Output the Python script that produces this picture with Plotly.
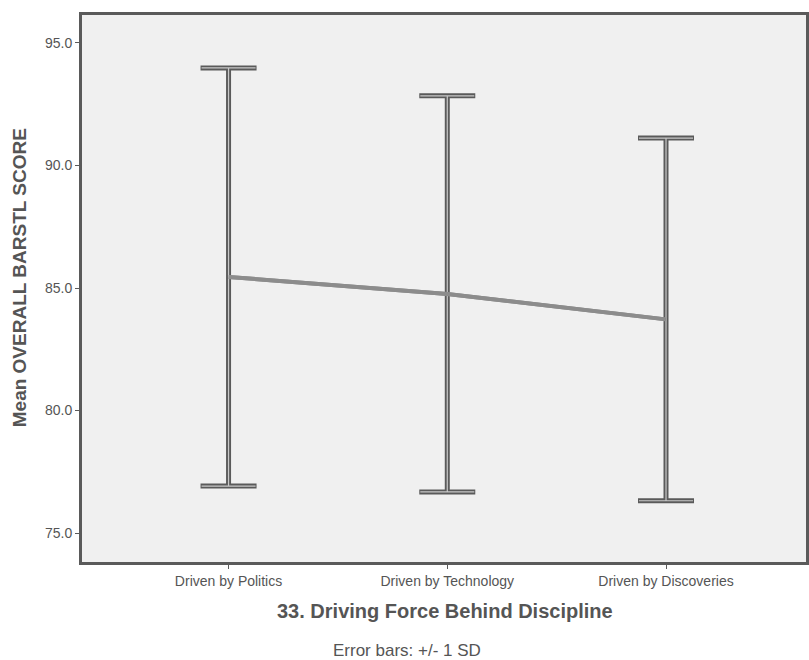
import plotly.graph_objects as go

categories = ["Driven by Politics", "Driven by Technology", "Driven by Discoveries"]
means = [85.45, 84.76, 83.72]
sds = [8.53, 8.08, 7.40]
y_ticks = [75.0, 80.0, 85.0, 90.0, 95.0]

x_pos = list(range(len(categories)))

fig = go.Figure()
# outer (dark) error bars
fig.add_trace(go.Scatter(
    x=x_pos, y=means, mode="lines",
    line=dict(color="#8c8c8c", width=4),
    error_y=dict(type="data", array=sds, visible=True, color="#5a5a5a",
                 thickness=5, width=28),
    showlegend=False, hoverinfo="skip",
))
# inner light core to mimic the tube-like error bars
fig.add_trace(go.Scatter(
    x=x_pos, y=means, mode="markers",
    marker=dict(size=1, opacity=0),
    error_y=dict(type="data", array=sds, visible=True, color="#c8c8c8",
                 thickness=1.2, width=27),
    showlegend=False, hoverinfo="skip",
))
# mean line drawn on top
fig.add_trace(go.Scatter(
    x=x_pos, y=means, mode="lines",
    line=dict(color="#8c8c8c", width=4),
    showlegend=False, hoverinfo="skip",
))

font = "Liberation Sans, Arial, sans-serif"
W, H = 809, 660
L, R, T, B = 82, 0, 15, 98
pw, ph = W - L - R, H - T - B

fig.update_layout(
    width=W, height=H,
    margin=dict(l=L, r=R, t=T, b=B),
    paper_bgcolor="white", plot_bgcolor="#F0F0F0",
    font=dict(family=font, color="#444444"),
    xaxis=dict(
        range=[-0.67, 2.64], tickvals=x_pos, ticktext=categories,
        showgrid=False, zeroline=False, showline=True, linecolor="#5a5a5a",
        linewidth=3, mirror=True, ticks="outside", ticklen=4, tickcolor="#5a5a5a",
        tickfont=dict(size=14, color="#555555"),
    ),
    yaxis=dict(
        range=[73.82, 96.14], tickvals=y_ticks,
        ticktext=[f"{v:.1f}" for v in y_ticks],
        showgrid=False, zeroline=False, showline=True, linecolor="#5a5a5a",
        linewidth=3, mirror=True, ticks="outside", ticklen=4, tickcolor="#5a5a5a",
        tickfont=dict(size=14, color="#555555"),
    ),
    annotations=[
        dict(text="<b>33. Driving Force Behind Discipline</b>", xref="paper", yref="paper",
             x=(447 - L) / pw, y=-(611 - (T + ph)) / ph, xanchor="center", yanchor="middle",
             showarrow=False, font=dict(size=20, color="#555555", family=font)),
        dict(text="Error bars: +/- 1 SD", xref="paper", yref="paper",
             x=(408 - L) / pw, y=-(650 - (T + ph)) / ph, xanchor="center", yanchor="middle",
             showarrow=False, font=dict(size=17, color="#555555", family=font)),
        dict(text="<b>Mean OVERALL BARSTL SCORE</b>", xref="paper", yref="paper",
             x=-(L - 20) / pw, y=1 - (278 - T) / ph, xanchor="center", yanchor="middle",
             textangle=-90, showarrow=False,
             font=dict(size=19, color="#555555", family=font)),
    ],
)

fig.write_html("out.html")
